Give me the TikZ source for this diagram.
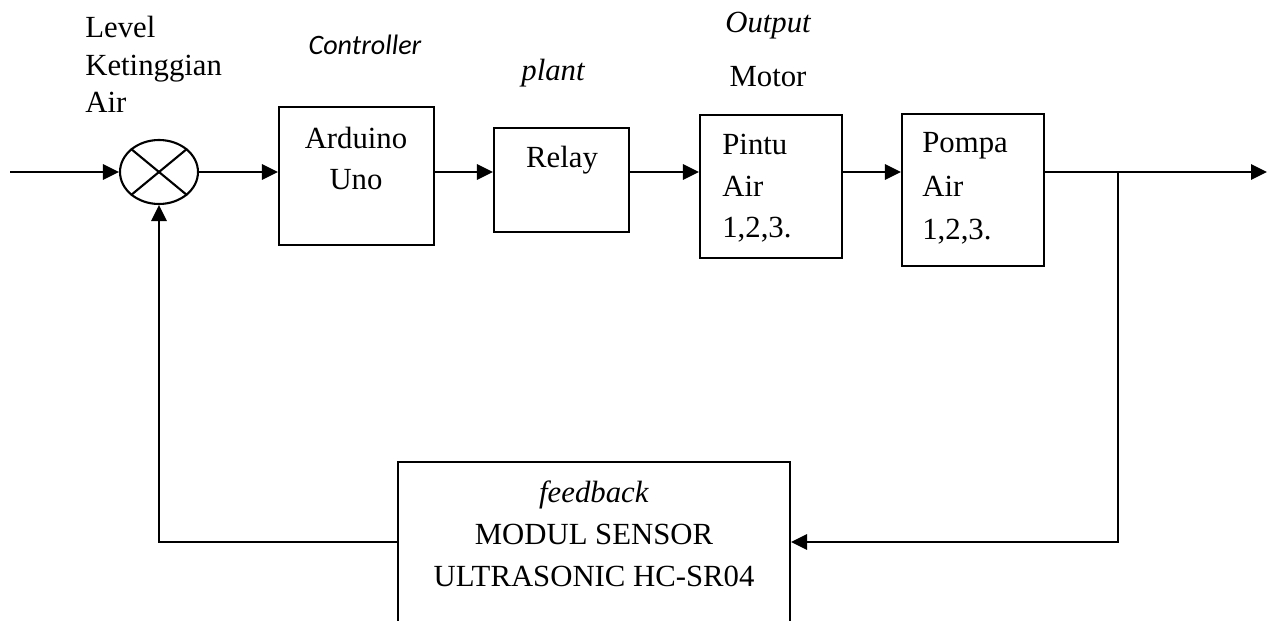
\documentclass[tikz,border=0pt]{standalone}
\usepackage{fontspec}
\setmainfont{Liberation Serif}
\newfontfamily\calibrifont{Carlito}
\usetikzlibrary{arrows.meta}
\usetikzlibrary{shapes.geometric}

\begin{document}
\begin{tikzpicture}[x=0.02cm, y=-0.02cm,
    teks/.style={inner sep=0pt, align=center, font=\fontsize{17.5}{23.9}\selectfont},
    miring/.style={teks, font=\fontsize{17.5}{23.9}\selectfont\itshape},
    blok/.style={rectangle, draw, line width=1.2pt, inner sep=0pt},
    panah/.style={line width=1.6pt, -{Triangle[length=0.32cm, width=0.3cm]}}]
  \useasboundingbox (0,0) rectangle (1268,621);
  \clip (0,0) rectangle (1268,621);

  % titik penjumlah
  \node[ellipse, draw, line width=1.2pt, inner sep=0pt, minimum width=1.56cm, minimum height=1.28cm] (sum) at (159,172) {};
  \draw[line width=1.2pt] (sum.north west) -- (sum.south east) (sum.north east) -- (sum.south west);

  % blok
  \node[blok, minimum width=3.1cm, minimum height=2.76cm] (arduino) at (356.5,176) {};
  \node[blok, minimum width=2.7cm, minimum height=2.08cm] (relay) at (561.5,180) {};
  \node[blok, minimum width=2.84cm, minimum height=2.86cm] (pintu) at (771,186.5) {};
  \node[blok, minimum width=2.84cm, minimum height=3.04cm] (pompa) at (973,190) {};
  \node[blok, minimum width=7.84cm, minimum height=3.2cm] (sensor) at (594,542) {};

  % teks (anchor base = baris terakhir)
  \node[teks, anchor=base] (arduinoteks) at (356,190) {Arduino\\Uno};
  \node[teks, anchor=base] (relayteks) at (562,168) {Relay};
  \node[teks, anchor=base west, align=left] (pintuteks) at (722,238) {Pintu\\Air\\1,2,3.};
  \node[teks, anchor=base west, align=left, font=\fontsize{17.5}{24.8}\selectfont] (pompateks) at (922,240) {Pompa\\Air\\1,2,3.};
  \node[teks, anchor=base] (sensorteks) at (594,586) {\textit{feedback}\\MODUL SENSOR\\ULTRASONIC HC-SR04};
  \node[teks, anchor=base west, align=left, font=\fontsize{17.5}{21.6}\selectfont] (level) at (85,113) {Level\\Ketinggian\\Air};
  \node[teks, anchor=base, font=\calibrifont\itshape\fontsize{16}{19}\selectfont] (controller) at (365,55) {Controller};
  \node[miring, anchor=base] (plant) at (553,81) {plant};
  \node[miring, anchor=base] (output) at (768,33) {Output};
  \node[teks, anchor=base] (motor) at (768,87) {Motor};

  % garis
  \coordinate (masuk) at (10,172);
  \coordinate (keluar) at (1267,172);
  \coordinate (cabang) at (1118,172);
  \draw[panah] (masuk) -- (sum.west);
  \draw[panah] (sum.east) -- (sum -| arduino.west);
  \draw[panah] (sum -| arduino.east) -- (sum -| relay.west);
  \draw[panah] (sum -| relay.east) -- (sum -| pintu.west);
  \draw[panah] (sum -| pintu.east) -- (sum -| pompa.west);
  \draw[panah] (sum -| pompa.east) -- (keluar);
  \draw[panah] (cabang) |- (sensor.east);
  \draw[panah] (sensor.west) -| (sum.south);
\end{tikzpicture}
\end{document}
